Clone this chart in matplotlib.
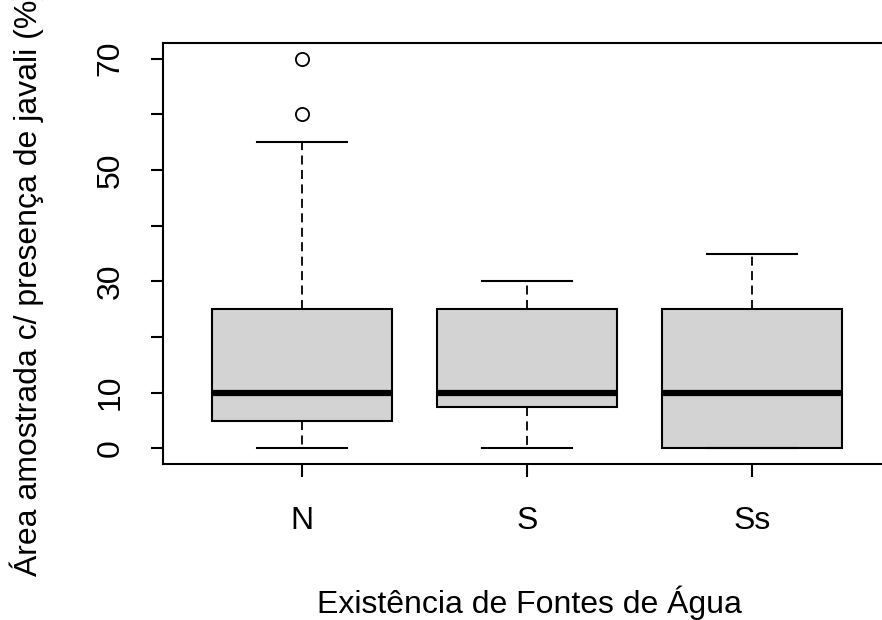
import matplotlib
matplotlib.use("Agg")
import matplotlib.pyplot as plt

plt.rcParams['font.family'] = ['Liberation Sans', 'DejaVu Sans']

categories = ["N", "S", "Ss"]
whisker_low = [0, 0, 0]
q1 = [5, 7.5, 0]
medians = [10, 10, 10]
q3 = [25, 25, 25]
whisker_high = [55, 30, 35]
outliers = [[60, 70], [], []]

ytick_vals = [0, 10, 20, 30, 40, 50, 60, 70]
ytick_labels = ["0", "10", "", "30", "", "50", "", "70"]

stats = []
for i, c in enumerate(categories):
    stats.append(dict(label=c, whislo=whisker_low[i], q1=q1[i], med=medians[i],
                      q3=q3[i], whishi=whisker_high[i], fliers=outliers[i]))

fig = plt.figure(figsize=(8.82, 6.2), dpi=100)
W, H = 882, 620
left, right, top, bottom = 163, 891, 43, 464
ax = fig.add_axes([left / W, 1 - bottom / H, (right - left) / W, (bottom - top) / H])

ax.bxp(stats, positions=[1, 2, 3], widths=0.8, patch_artist=True,
       boxprops=dict(facecolor='#d3d3d3', edgecolor='black', linewidth=1.5),
       medianprops=dict(color='black', linewidth=4.5, solid_capstyle='butt'),
       whiskerprops=dict(color='black', linewidth=1.3, linestyle=(0, (5, 3))),
       capprops=dict(color='black', linewidth=1.5),
       capwidths=0.4,
       flierprops=dict(marker='o', markerfacecolor='none', markeredgecolor='black',
                       markersize=9.5, markeredgewidth=1.3))

ax.set_xlim(0.38, 3.62)
ax.set_ylim(-2.8, 72.8)

for s in ['top', 'right', 'bottom', 'left']:
    ax.spines[s].set_linewidth(1.5)

ax.set_yticks(ytick_vals)
ax.set_yticklabels(ytick_labels, rotation=90, va='center', fontsize=23)
ax.set_xticks([1, 2, 3])
ax.set_xticklabels(categories, fontsize=23)
ax.tick_params(axis='both', length=9, width=1.5, direction='out')
ax.tick_params(axis='y', pad=18)
ax.tick_params(axis='x', pad=21)

fig.text(317 / W, 1 - 603 / H, "Existência de Fontes de Água", fontsize=23,
         ha='left', va='center')
fig.text(27 / W, 1 - 576 / H, "Área amostrada c/ presença de javali (%)", fontsize=23,
         rotation=90, ha='center', va='bottom')

fig.savefig("out.png", dpi=100)
